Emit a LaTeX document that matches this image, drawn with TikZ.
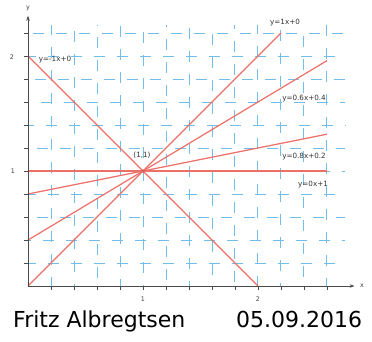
\documentclass[tikz,border=0pt]{standalone}
\usepackage{fontspec}
\setmainfont{DejaVu Sans}
\usetikzlibrary{arrows.meta}
\definecolor{gridblue}{RGB}{115,190,232}
\definecolor{redline}{RGB}{236,112,104}
\definecolor{axisgray}{RGB}{75,75,75}
\tikzset{
  gridline/.style={gridblue, line width=1pt, dash pattern=on 11pt off 12pt},
  fnline/.style={redline, line width=1.2pt},
  axisline/.style={axisgray, line width=0.9pt},
  tickline/.style={axisgray, line width=0.7pt},
  lbl/.style={font=\fontsize{7.2}{8}\selectfont, text=black!80, inner sep=0pt},
  axlbl/.style={font=\fontsize{6.3}{7}\selectfont, text=black!75, inner sep=0pt},
  bigtext/.style={font=\fontsize{22}{26}\selectfont, text=black, inner sep=0pt, anchor=base west}
}
\begin{document}
\begin{tikzpicture}[x=1pt,y=-1pt]
\useasboundingbox (0,0) rectangle (372,342);
\fill[white] (0,0) rectangle (372,342);
\begin{scope}[shift={(28,286)}, x=115pt, y=115pt]
  % grid
  \foreach \i/\ph in {1/3,2/8,3/14,4/3,5/8,6/14,7/5,8/10,9/16,10/3,11/18}
    \draw[gridline, dash phase=\ph pt] (0,\i*0.2) -- (2.76,\i*0.2);
  \foreach \i/\ph in {1/2,2/9,3/15,4/4,5/10,6/17,7/6,8/12,9/19,10/1,11/8,12/14,13/3}
    \draw[gridline, dash phase=\ph pt] (\i*0.2,0) -- (\i*0.2,2.27);
  % ticks
  \foreach \i in {1,...,13}
    \draw[tickline] (\i*0.2,0) -- (\i*0.2,-0.035);
  \foreach \i in {1,...,11}
    \draw[tickline] (0,\i*0.2) -- (-0.035,\i*0.2);
  % coordinates
  \coordinate (O) at (0,0);
  \coordinate (xend) at (2.84,0);
  \coordinate (yend) at (0,2.35);
  \coordinate (a1) at (0,2);   \coordinate (a2) at (2,0);
  \coordinate (b2) at (2.2,2.2);
  \coordinate (c1) at (0,0.4); \coordinate (c2) at (2.6,1.96);
  \coordinate (d1) at (0,0.8); \coordinate (d2) at (2.6,1.32);
  \coordinate (e1) at (0,1);   \coordinate (e2) at (2.6,1);
  \coordinate (P) at (1,1);
  % function lines
  \draw[fnline] (a1) -- (a2);
  \draw[fnline] (O) -- (b2);
  \draw[fnline] (c1) -- (c2);
  \draw[fnline] (d1) -- (d2);
  \draw[fnline] (e1) -- (e2);
  \fill[redline!90!black] (P) circle (1.8pt);
  % axes
  \draw[axisline, -{Stealth[length=5pt,width=3.5pt]}] (O) -- (xend);
  \draw[axisline, -{Stealth[length=5pt,width=3.5pt]}] (O) -- (yend);
\end{scope}
% axis labels
\node[axlbl] (xl) at (362,286) {x};
\node[axlbl] (yl) at (28,8) {y};
\node[axlbl] (x1) at (143,299) {1};
\node[axlbl] (x2) at (258,299) {2};
\node[axlbl] (y1) at (13,171) {1};
\node[axlbl] (y2) at (12,57) {2};
% function labels
\node[lbl] (la) at (55,60) {y=-1x+0};
\node[lbl] (lb) at (285,23) {y=1x+0};
\node[lbl] (lc) at (304,99) {y=0.6x+0.4};
\node[lbl] (ld) at (304,157) {y=0.8x+0.2};
\node[lbl] (le) at (313,185) {y=0x+1};
\node[lbl] (lp) at (142,155) {(1,1)};
% footer
\node[bigtext] (author) at (13,327) {Fritz Albregtsen};
\node[bigtext] (date) at (236,327) {05.09.2016};
\end{tikzpicture}
\end{document}
